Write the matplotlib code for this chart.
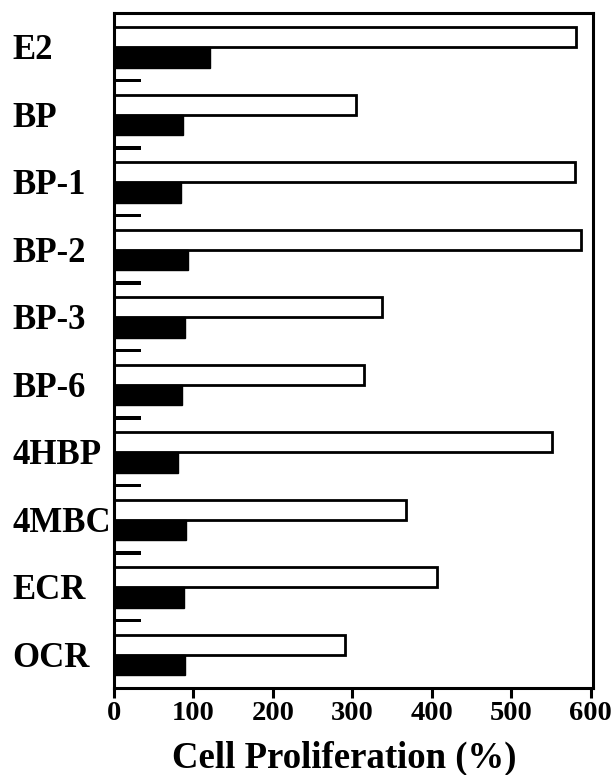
import matplotlib
matplotlib.use("Agg")
import matplotlib.pyplot as plt
import numpy as np

# Compounds, top to bottom
COMPOUNDS = ["E2", "BP", "BP-1", "BP-2", "BP-3", "BP-6", "4HBP", "4MBC", "ECR", "OCR"]

# Cell proliferation (%)
WHITE_VALUES = [582, 305, 580, 588, 338, 315, 551, 368, 406, 291]
BLACK_VALUES = [121, 87, 84, 93, 89, 85, 80, 91, 88, 89]
# thin bar drawn at the top of every group
THIN_VALUES = [34, 34, 34, 34, 34, 34, 34, 34, 34, 34]

X_TICKS = [0, 100, 200, 300, 400, 500, 600]


def main():

    plt.rcParams["font.family"] = "Liberation Serif"
    plt.rcParams["font.weight"] = "bold"

    fig = plt.figure(figsize=(6.14, 7.75), dpi=100)
    ax = fig.add_axes([114 / 614, 1 - 688 / 775, (593 - 114) / 614, (688 - 13) / 775])

    pos = np.arange(len(COMPOUNDS))

    # thin bars, white (outlined) bars, black bars
    ax.barh(pos, THIN_VALUES, height=0.045, color="black", linewidth=0, zorder=2)
    ax.barh(pos + 0.36, WHITE_VALUES, height=0.3, color="white",
            edgecolor="black", linewidth=2.0, zorder=2)
    ax.barh(pos + 0.66, BLACK_VALUES, height=0.3, color="black",
            edgecolor="black", linewidth=1.0, zorder=2)

    ax.set_ylim(len(COMPOUNDS), 0)
    ax.set_xlim(0, 603)

    # y labels, left aligned at the figure edge
    ax.set_yticks(pos + 0.5)
    ax.set_yticklabels(COMPOUNDS, fontsize=25, fontweight="bold", ha="left")
    ax.tick_params(axis="y", length=0, pad=73)

    ax.set_xticks(X_TICKS)
    ax.set_xticklabels([str(t) for t in X_TICKS], fontsize=20.5, fontweight="bold")
    ax.tick_params(axis="x", direction="out", length=7, width=2.2, pad=2)

    for side in ["left", "right", "top", "bottom"]:
        ax.spines[side].set_linewidth(2.2)

    ax.set_xlabel("Cell Proliferation (%)", fontsize=26.5, fontweight="bold")
    ax.xaxis.set_label_coords(0.48, -0.078)

    fig.savefig("out.png", dpi=100)


if __name__ == '__main__':
    main()
